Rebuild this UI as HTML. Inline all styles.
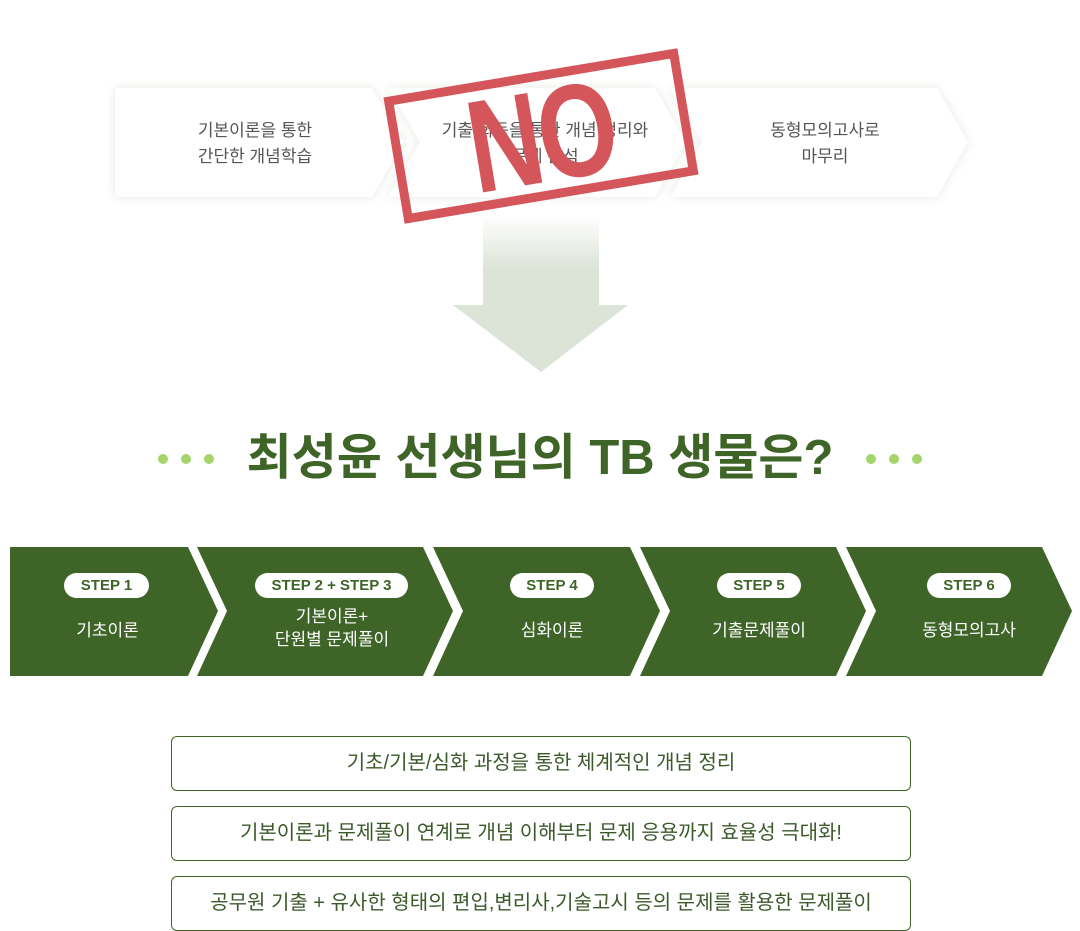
<!DOCTYPE html>
<html><head><meta charset="utf-8"><style>
body{margin:0;width:1080px;height:931px;background:#fff;position:relative;overflow:hidden;font-family:"Liberation Sans","Noto Sans CJK KR",sans-serif}
.t{position:absolute;text-align:center;white-space:nowrap}
.box{position:absolute;left:171px;width:738px;height:53px;border:1px solid #3e6427;border-radius:6px;color:#3b5a2a;font-size:20px;line-height:53px;text-align:center}
.pill{position:absolute;background:#fff;color:#3e6427;font-weight:bold;font-size:15px;height:25px;line-height:25px;border-radius:13px;text-align:center}
.st{position:absolute;color:#fff;font-size:17px;text-align:center;line-height:23px;white-space:nowrap}
.dot{position:absolute;width:10px;height:10px;border-radius:50%;background:#a5d46a;top:454px}
</style></head><body>
<svg width="1080" height="931" style="position:absolute;left:0;top:0">
<defs>
<filter id="sh" x="-20%" y="-30%" width="140%" height="160%"><feGaussianBlur stdDeviation="5"/></filter>
<linearGradient id="ag" x1="0" y1="0" x2="0" y2="1"><stop offset="0" stop-color="#dce3d7" stop-opacity="0"/><stop offset="0.35" stop-color="#dce3d7"/><stop offset="1" stop-color="#dce3d7"/></linearGradient>
</defs>
<g fill="#e6eae2" filter="url(#sh)">
<polygon points="115,88 372,88 404,142 372,197 115,197"/>
<polygon points="388,88 655,88 686,142 655,197 388,197 420,142"/>
<polygon points="670,88 937,88 968,142 937,197 670,197 702,142"/>
</g>
<g fill="#fff">
<polygon points="115,88 372,88 404,142 372,197 115,197"/>
<polygon points="388,88 655,88 686,142 655,197 388,197 420,142"/>
<polygon points="670,88 937,88 968,142 937,197 670,197 702,142"/>
</g>
<polygon points="483,215 599,215 599,305 628,305 541,372 453,305 483,305" fill="url(#ag)"/>
<g fill="#3e6427">
<polygon points="10,547 188,547 218,611 188,676 10,676"/>
<polygon points="197,547 423,547 453,611 423,676 197,676 227,611"/>
<polygon points="433,547 630,547 660,611 630,676 433,676 463,611"/>
<polygon points="640,547 836,547 866,611 836,676 640,676 670,611"/>
<polygon points="846,547 1042,547 1072,611 1042,676 846,676 876,611"/>
</g>
</svg>
<div class="t" style="left:115px;width:280px;top:118px;font-size:17px;line-height:26px;color:#555">기본이론을 통한<br>간단한 개념학습</div>
<div class="t" style="left:405px;width:280px;top:118px;font-size:17px;line-height:26px;color:#555">기출 회독을 통한 개념 정리와<br>문제 분석</div>
<div class="t" style="left:685px;width:280px;top:118px;font-size:17px;line-height:26px;color:#555">동형모의고사로<br>마무리</div>
<div style="position:absolute;left:392px;top:72px;width:298px;height:128px;box-sizing:border-box;border:9px solid #d4555a;transform:rotate(-9.5deg)"></div>
<div class="t" style="left:392px;top:62px;width:298px;height:150px;line-height:150px;font-size:120px;font-weight:bold;color:#d4555a;transform:rotate(-9.5deg) scale(0.85,1.1);letter-spacing:-4px">NO</div>
<div class="dot" style="left:158px"></div><div class="dot" style="left:181px"></div><div class="dot" style="left:204px"></div>
<div class="dot" style="left:866px"></div><div class="dot" style="left:889px"></div><div class="dot" style="left:912px"></div>
<div class="t" style="left:190px;width:700px;top:426px;font-size:49px;line-height:64px;font-weight:bold;color:#3e6427">최성윤 선생님의 TB 생물은?</div>
<div class="pill" style="left:64px;top:573px;width:85px">STEP 1</div>
<div class="st" style="left:10px;width:195px;top:619px">기초이론</div>
<div class="pill" style="left:255px;top:573px;width:153px">STEP 2 + STEP 3</div>
<div class="st" style="left:227px;width:210px;top:605px">기본이론+<br>단원별 문제풀이</div>
<div class="pill" style="left:510px;top:573px;width:84px">STEP 4</div>
<div class="st" style="left:452px;width:200px;top:619px">심화이론</div>
<div class="pill" style="left:717px;top:573px;width:84px">STEP 5</div>
<div class="st" style="left:659px;width:200px;top:619px">기출문제풀이</div>
<div class="pill" style="left:927px;top:573px;width:84px">STEP 6</div>
<div class="st" style="left:869px;width:200px;top:619px">동형모의고사</div>
<div class="box" style="top:736px">기초/기본/심화 과정을 통한 체계적인 개념 정리</div>
<div class="box" style="top:806px">기본이론과 문제풀이 연계로 개념 이해부터 문제 응용까지 효율성 극대화!</div>
<div class="box" style="top:876px">공무원 기출 + 유사한 형태의 편입,변리사,기술고시 등의 문제를 활용한 문제풀이</div>
</body></html>
